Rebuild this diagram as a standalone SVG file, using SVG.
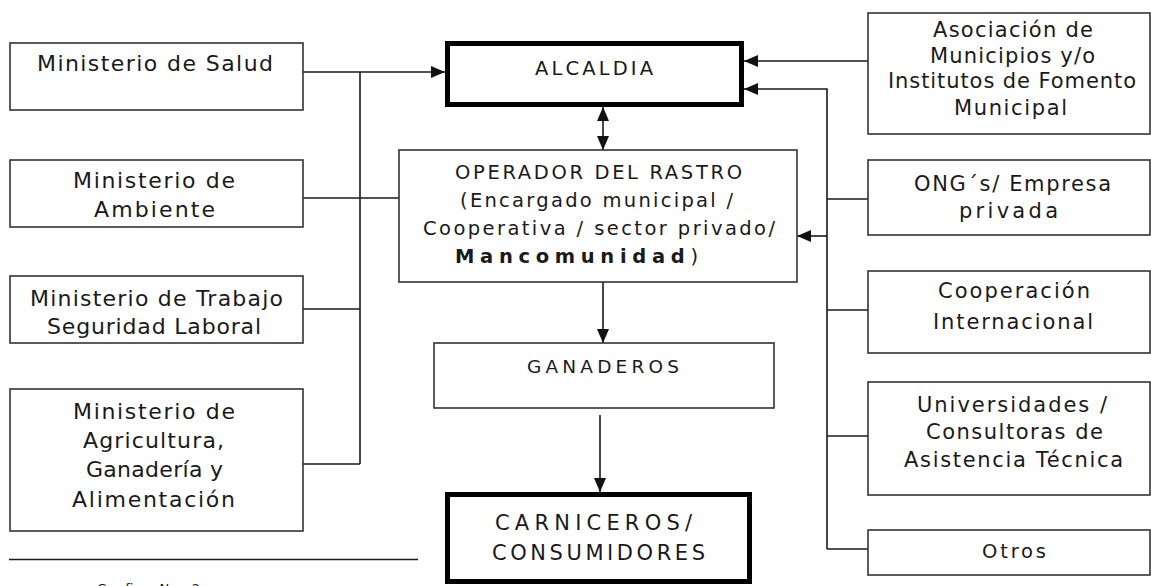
<svg xmlns="http://www.w3.org/2000/svg" width="1151" height="586" viewBox="0 0 1151 586">
  <style>
    .box { fill: #ffffff; stroke: #333333; stroke-width: 1.6; }
    .thick { fill: #ffffff; stroke: #000000; stroke-width: 5; }
    .conn { fill: none; stroke: #1a1a1a; stroke-width: 1.6; }
    text { font-family: "DejaVu Sans", "Verdana", sans-serif; fill: #1a1a1a; }
    .l { font-size: 22px; }
    .c { font-size: 19.5px; }
    .r { font-size: 21px; }
  </style>
  <defs>
    <marker id="ah" viewBox="0 0 14 12" refX="14" refY="6" markerUnits="userSpaceOnUse" markerWidth="14" markerHeight="12" orient="auto-start-reverse">
      <path d="M0,0 L14,6 L0,12 z" fill="#111111"/>
    </marker>
  </defs>
  <rect width="1151" height="586" fill="#ffffff"/>

  <g id="connectors">
    <path class="conn" d="M303,72 H445" marker-end="url(#ah)"/>
    <path class="conn" d="M360,72 V464"/>
    <path class="conn" d="M303,198 H399"/>
    <path class="conn" d="M303,309 H360"/>
    <path class="conn" d="M303,464 H360"/>
    <path class="conn" d="M868,61 H744" marker-end="url(#ah)"/>
    <path class="conn" d="M827,549 V89 H744" marker-end="url(#ah)"/>
    <path class="conn" d="M868,199 H827"/>
    <path class="conn" d="M827,236 H797" marker-end="url(#ah)"/>
    <path class="conn" d="M868,310 H827"/>
    <path class="conn" d="M868,436 H827"/>
    <path class="conn" d="M868,549 H827"/>
    <path class="conn" d="M603,107 V150" marker-start="url(#ah)" marker-end="url(#ah)"/>
    <path class="conn" d="M603,282 V343" marker-end="url(#ah)"/>
    <path class="conn" d="M600,415 V492" marker-end="url(#ah)"/>
    <path class="conn" d="M9,559.5 H418"/>
  </g>

  <g id="ministerio-salud">
    <rect class="box" x="10" y="43" width="293" height="67"/>
    <text class="l" x="37" y="71" textLength="236" lengthAdjust="spacing">Ministerio de Salud</text>
  </g>
  <g id="ministerio-ambiente">
    <rect class="box" x="10" y="160" width="293" height="67"/>
    <text class="l" x="73" y="188" textLength="162" lengthAdjust="spacing">Ministerio de</text>
    <text class="l" x="94" y="217" textLength="121" lengthAdjust="spacing">Ambiente</text>
  </g>
  <g id="ministerio-trabajo">
    <rect class="box" x="10" y="276" width="293" height="67"/>
    <text class="l" x="30" y="306" textLength="253" lengthAdjust="spacing">Ministerio de Trabajo</text>
    <text class="l" x="47" y="334" textLength="214" lengthAdjust="spacing">Seguridad Laboral</text>
  </g>
  <g id="ministerio-agricultura">
    <rect class="box" x="10" y="389" width="293" height="142"/>
    <text class="l" x="73" y="419" textLength="162" lengthAdjust="spacing">Ministerio de</text>
    <text class="l" x="83" y="448" textLength="141" lengthAdjust="spacing">Agricultura,</text>
    <text class="l" x="86" y="477" textLength="137" lengthAdjust="spacing">Ganadería y</text>
    <text class="l" x="72" y="507" textLength="163" lengthAdjust="spacing">Alimentación</text>
  </g>

  <g id="alcaldia">
    <rect class="thick" x="447.5" y="43.5" width="294" height="61"/>
    <text class="c" x="535" y="75" textLength="118" lengthAdjust="spacing">ALCALDIA</text>
  </g>
  <g id="operador">
    <rect class="box" x="399" y="150" width="398" height="132"/>
    <text class="c" x="455" y="179" textLength="287" lengthAdjust="spacing">OPERADOR DEL RASTRO</text>
    <text class="c" x="460" y="207" textLength="273" lengthAdjust="spacing">(Encargado municipal /</text>
    <text class="c" x="423" y="235" textLength="352" lengthAdjust="spacing">Cooperativa / sector privado/</text>
    <text class="c" x="455" y="263" textLength="243" lengthAdjust="spacing"><tspan font-weight="bold">Mancomunidad</tspan>)</text>
  </g>
  <g id="ganaderos">
    <rect class="box" x="434" y="343" width="340" height="65"/>
    <text style="font-size:18.5px" x="527" y="373" textLength="152" lengthAdjust="spacing">GANADEROS</text>
  </g>
  <g id="carniceros">
    <rect class="thick" x="447.5" y="494.5" width="302" height="87"/>
    <text style="font-size:21px" x="495" y="530" textLength="197" lengthAdjust="spacing">CARNICEROS/</text>
    <text style="font-size:21px" x="492" y="560" textLength="213" lengthAdjust="spacing">CONSUMIDORES</text>
  </g>

  <g id="asociacion">
    <rect class="box" x="868" y="13" width="282" height="121"/>
    <text class="r" x="933" y="37" textLength="160" lengthAdjust="spacing">Asociación de</text>
    <text class="r" x="930" y="63" textLength="165" lengthAdjust="spacing">Municipios y/o</text>
    <text class="r" x="888" y="88" textLength="248" lengthAdjust="spacing">Institutos de Fomento</text>
    <text class="r" x="954" y="115" textLength="113" lengthAdjust="spacing">Municipal</text>
  </g>
  <g id="ong">
    <rect class="box" x="868" y="160" width="282" height="75"/>
    <text class="r" x="914" y="191" textLength="197" lengthAdjust="spacing">ONG´s/ Empresa</text>
    <text class="r" x="959" y="218" textLength="99" lengthAdjust="spacing">privada</text>
  </g>
  <g id="cooperacion">
    <rect class="box" x="868" y="271" width="282" height="82"/>
    <text class="r" x="938" y="298" textLength="152" lengthAdjust="spacing">Cooperación</text>
    <text class="r" x="933" y="329" textLength="160" lengthAdjust="spacing">Internacional</text>
  </g>
  <g id="universidades">
    <rect class="box" x="868" y="382" width="282" height="113"/>
    <text class="r" x="917" y="412" textLength="190" lengthAdjust="spacing">Universidades /</text>
    <text class="r" x="926" y="439" textLength="177" lengthAdjust="spacing">Consultoras de</text>
    <text class="r" x="904" y="467" textLength="219" lengthAdjust="spacing">Asistencia Técnica</text>
  </g>
  <g id="otros">
    <rect class="box" x="868" y="530" width="282" height="45"/>
    <text class="c" x="982" y="558" textLength="64" lengthAdjust="spacing">Otros</text>
  </g>

  <g id="caption">
    <text style="font-size:13px" x="97" y="593" textLength="103" lengthAdjust="spacing">Grafico No. 2</text>
  </g>
</svg>
